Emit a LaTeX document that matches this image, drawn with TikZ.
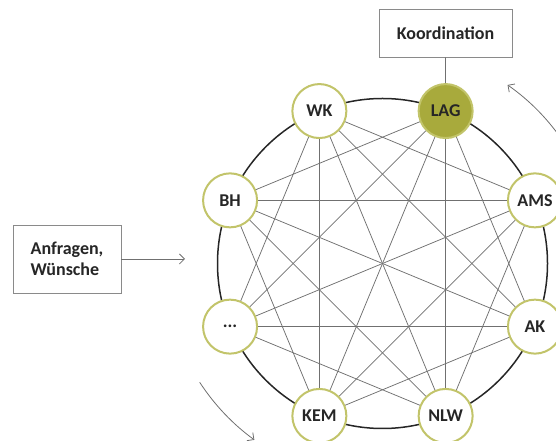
\documentclass[tikz,border=0pt]{standalone}
\usepackage{fontspec}
\setmainfont{Carlito}
\usetikzlibrary{calc,positioning,arrows.meta}
\definecolor{ringgreen}{HTML}{C2C46A}
\definecolor{lagfill}{HTML}{A8AA3C}
\definecolor{textgray}{HTML}{262626}
\definecolor{boxgray}{HTML}{8A8A8A}
\definecolor{linkgray}{HTML}{707070}
\tikzset{
    member/.style={circle, draw=ringgreen, line width=2pt, fill=white,
        minimum size=54pt, inner sep=0pt, text=textgray,
        font=\bfseries\fontsize{18}{21}\selectfont}, % the circles on the ring
    infobox/.style={rectangle, draw=boxgray, line width=0.9pt, fill=white,
        text=textgray, font=\bfseries\fontsize{18}{21}\selectfont},
    link/.style={draw=linkgray, line width=0.75pt},
    flow/.style={draw=linkgray, line width=0.8pt, -{Straight Barb[length=5pt,width=10pt]}},
}
\begin{document}
\begin{tikzpicture}[x=1pt,y=1pt]
  \useasboundingbox (0,0) rectangle (556,441);
  \clip (0,0) rectangle (556,441);

  % ring
  \coordinate (C) at (382.5,177.5);
  \draw[line width=1.5pt, black!85] (C) circle (165);

  % cross links (every pair that is not neighbouring)
  \coordinate (AMSc) at ($(C)+(22.5:165)$);
  \coordinate (LAGc) at ($(C)+(67.5:165)$);
  \coordinate (WKc) at ($(C)+(112.5:165)$);
  \coordinate (BHc) at ($(C)+(157.5:165)$);
  \coordinate (DOTSc) at ($(C)+(202.5:165)$);
  \coordinate (KEMc) at ($(C)+(247.5:165)$);
  \coordinate (NLWc) at ($(C)+(292.5:165)$);
  \coordinate (AKc) at ($(C)+(337.5:165)$);

  \node[member] (AMS) at (AMSc) {AMS};
  \node[member, fill=lagfill] (LAG) at (LAGc) {LAG};
  \node[member] (WK) at (WKc) {WK};
  \node[member] (BH) at (BHc) {BH};
  \node[member] (DOTS) at (DOTSc) {...};
  \node[member] (KEM) at (KEMc) {KEM};
  \node[member] (NLW) at (NLWc) {NLW};
  \node[member] (AK) at (AKc) {AK};

  \path[link]
    (AMS) edge (WK)
    (AMS) edge (BH)
    (AMS) edge (DOTS)
    (AMS) edge (KEM)
    (AMS) edge (NLW)
    (LAG) edge (BH)
    (LAG) edge (DOTS)
    (LAG) edge (KEM)
    (LAG) edge (NLW)
    (LAG) edge (AK)
    (WK) edge (DOTS)
    (WK) edge (KEM)
    (WK) edge (NLW)
    (WK) edge (AK)
    (BH) edge (KEM)
    (BH) edge (NLW)
    (BH) edge (AK)
    (DOTS) edge (NLW)
    (DOTS) edge (AK)
    (KEM) edge (AK);

  % boxes
  \node[infobox, minimum width=133pt, minimum height=48pt] (koord) at (445.5,408) {Koordination};
  \node[infobox, minimum width=108pt, minimum height=68pt, align=left] (anfragen) at (67,182) {Anfragen,\\Wünsche};
  \coordinate (anfragenTip) at (185,182);

  \draw[link] (koord) -- (LAG);
  \draw[flow] (anfragen) -- (anfragenTip);

  % turning arrows
  \draw[flow] ($(C)+(25:218)$) arc[start angle=25, end angle=55, radius=218];
  \draw[flow] ($(C)+(213:218)$) arc[start angle=213, end angle=234, radius=218];
\end{tikzpicture}
\end{document}
